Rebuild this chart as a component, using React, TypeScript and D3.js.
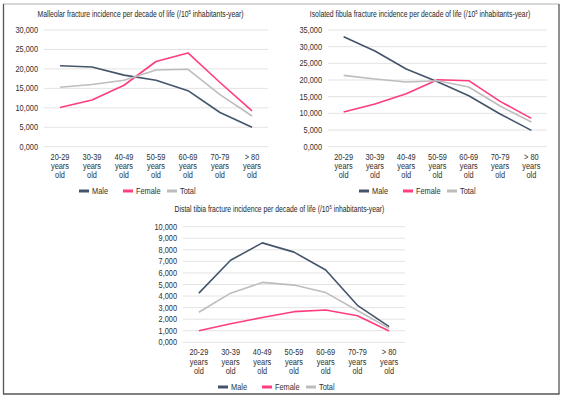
import React from "react";
import * as d3 from "d3";

const categories = ["20-29 years old", "30-39 years old", "40-49 years old", "50-59 years old", "60-69 years old", "70-79 years old", "> 80 years old"];
const seriesNames = ["Male", "Female", "Total"];

const malleolarTitle = "Malleolar fracture incidence per decade of life (/10⁵ inhabitants-year)";
const malleolarMale = [20.8, 20.5, 18.4, 17.1, 14.4, 8.8, 5.0];
const malleolarFemale = [10.1, 12.0, 15.8, 21.9, 24.1, 16.5, 9.2];
const malleolarTotal = [15.3, 16.0, 17.1, 19.7, 19.9, 13.4, 7.9];
const malleolarTicks = [0, 5, 10, 15, 20, 25, 30];

const fibulaTitle = "Isolated fibula fracture incidence per decade of life (/10⁵ inhabitants-year)";
const fibulaMale = [33.0, 28.7, 23.3, 19.5, 15.3, 9.8, 4.9];
const fibulaFemale = [10.4, 12.8, 15.9, 20.1, 19.8, 13.6, 8.5];
const fibulaTotal = [21.4, 20.3, 19.4, 19.8, 17.9, 12.2, 7.4];
const fibulaTicks = [0, 5, 10, 15, 20, 25, 30, 35];

const tibiaTitle = "Distal tibia fracture incidence per decade of life (/10⁵ inhabitants-year)";
const tibiaMale = [4.25, 7.1, 8.6, 7.8, 6.25, 3.2, 1.35];
const tibiaFemale = [1.0, 1.6, 2.15, 2.65, 2.8, 2.3, 0.98];
const tibiaTotal = [2.6, 4.25, 5.18, 4.95, 4.3, 2.75, 1.2];
const tibiaTicks = [0, 1, 2, 3, 4, 5, 6, 7, 8, 9, 10];

const colors = ["#44546A", "#FF3C7E", "#BDBDBD"];
const FONT = "'Liberation Sans', Arial, sans-serif";
const SX = 0.84;
const FS = 8.8;
const TXT = "#303030";

function NText({ x, y, anchor, children, size = FS, fill = TXT, sx = SX }: any) {
  return (
    <g transform={`translate(${x},${y}) scale(${sx},1)`}>
      <text x={0} y={0} textAnchor={anchor} fontSize={size} fill={fill}>
        {children}
      </text>
    </g>
  );
}

type ChartProps = {
  title: string;
  series: number[][];
  ticks: number[];
  left: number;
  right: number;
  top: number;
  bottom: number;
  titleX: number;
  titleY: number;
  legendX: number;
  legendY: number;
};

function Chart({ title, series, ticks, left, right, top, bottom, titleX, titleY, legendX, legendY }: ChartProps) {
  const x = d3.scaleBand<string>().domain(categories).range([left, right]);
  const y = d3.scaleLinear().domain([0, ticks[ticks.length - 1]]).range([bottom, top]);
  const line = d3
    .line<number>()
    .x((_, i) => (x(categories[i]) as number) + x.bandwidth() / 2)
    .y((d) => y(d));
  const fmt = (v: number) => (v === 0 ? "0,000" : d3.format(",")(v * 1000));
  const titleParts = title.split("⁵");
  const legendOffsets = [0, 44, 88];
  return (
    <g fontFamily={FONT}>
      <NText x={titleX} y={titleY} anchor="middle" fill="#1e1e1e" sx={0.775}>
        {titleParts[0]}
        <tspan fontSize={5.5} dy={-3}>5</tspan>
        <tspan dy={3}>{titleParts[1]}</tspan>
      </NText>
      {ticks.map((t) => (
        <g key={t}>
          <line x1={left} x2={right} y1={y(t)} y2={y(t)} stroke="#E3E3E3" strokeWidth={1} />
          <NText x={left - 6} y={y(t) + 3} anchor="end">
            {fmt(t)}
          </NText>
        </g>
      ))}
      {categories.map((c) => {
        const parts = c.split(" ");
        const lines = [parts.slice(0, parts.length - 2).join(" "), parts[parts.length - 2], parts[parts.length - 1]];
        const cx = (x(c) as number) + x.bandwidth() / 2;
        return (
          <g key={c}>
            {lines.map((l, i) => (
              <NText key={i} x={cx} y={bottom + 13 + i * 9.3} anchor="middle">
                {l}
              </NText>
            ))}
          </g>
        );
      })}
      {series.map((s, i) => (
        <path key={i} d={line(s) || ""} fill="none" stroke={colors[i]} strokeWidth={1.6} strokeLinejoin="round" />
      ))}
      {seriesNames.map((n, i) => (
        <g key={n}>
          <line
            x1={legendX + legendOffsets[i]}
            x2={legendX + legendOffsets[i] + 10}
            y1={legendY}
            y2={legendY}
            stroke={colors[i]}
            strokeWidth={3}
          />
          <NText x={legendX + legendOffsets[i] + 13} y={legendY + 3}>
            {n}
          </NText>
        </g>
      ))}
    </g>
  );
}

export default function App() {
  return (
    <svg width={564} height={400} style={{ position: "absolute", left: 0, top: 0, background: "#fff" }}>
      <rect x={0} y={0} width={564} height={400} fill="#fff" />
      <line x1={3} x2={559} y1={4} y2={4} stroke="#B0B0B0" strokeWidth={1.2} />
      <line x1={3.5} x2={3.5} y1={4} y2={394} stroke="#555" strokeWidth={1.3} />
      <line x1={559} x2={559} y1={4} y2={394} stroke="#555" strokeWidth={1.3} />
      <line x1={3} x2={559.5} y1={394} y2={394} stroke="#555" strokeWidth={1.5} />
      <Chart
        title={malleolarTitle}
        series={[malleolarMale, malleolarFemale, malleolarTotal]}
        ticks={malleolarTicks}
        left={44}
        right={268}
        top={30}
        bottom={146.7}
        titleX={140.5}
        titleY={17}
        legendX={79}
        legendY={191}
      />
      <Chart
        title={fibulaTitle}
        series={[fibulaMale, fibulaFemale, fibulaTotal]}
        ticks={fibulaTicks}
        left={328}
        right={547}
        top={30}
        bottom={146.7}
        titleX={420}
        titleY={17}
        legendX={359}
        legendY={191}
      />
      <Chart
        title={tibiaTitle}
        series={[tibiaMale, tibiaFemale, tibiaTotal]}
        ticks={tibiaTicks}
        left={183}
        right={405}
        top={226.7}
        bottom={342.3}
        titleX={279.5}
        titleY={212}
        legendX={218}
        legendY={387}
      />
    </svg>
  );
}
